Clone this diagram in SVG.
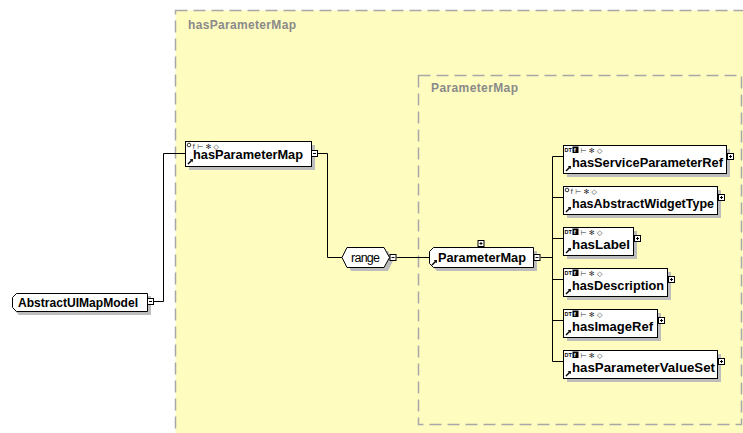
<svg xmlns="http://www.w3.org/2000/svg" xmlns:xlink="http://www.w3.org/1999/xlink" width="743" height="433" viewBox="0 0 743 433">
<style>
.cont{fill:#FFFCC0;stroke:#A8A8A8;stroke-width:1.5;stroke-dasharray:12 6}
.clabel{font-family:"Liberation Sans",Arial,sans-serif;font-weight:bold;font-size:12px;fill:#8A8A8A}
.box{fill:#FFFFFF;stroke:#000000;stroke-width:1}
.shadow{fill:#BDBDBD;stroke:none}
.name{font-family:"Liberation Sans",Arial,sans-serif;font-weight:bold;font-size:13.5px;fill:#000000}
.plain{font-family:"Liberation Sans",Arial,sans-serif;font-size:12.5px;fill:#000000}
.ico{font-family:"DejaVu Sans",sans-serif;font-size:7px;fill:#333333}
.dt{font-family:"Liberation Sans",Arial,sans-serif;font-weight:bold;font-size:5.5px;fill:#000000}
.wf{font-family:"Liberation Sans",Arial,sans-serif;font-weight:bold;font-size:6px;fill:#FFFFFF}
.conn{fill:none;stroke:#000000;stroke-width:1}
.sign{fill:#FFFFFF;stroke:#000000;stroke-width:1}
.signl{stroke:#000000;stroke-width:1}
</style>
<defs>
<g id="minus"><rect class="sign" x="0.5" y="0.5" width="6" height="6"/><path class="signl" d="M2,3.5H5"/></g>
<g id="plus"><rect class="sign" x="0.5" y="0.5" width="6" height="6"/><path class="signl" d="M2,3.5H5M3.5,2V5"/></g>
<g id="arrow"><path d="M0.5,5.5L4,2" stroke="#000" stroke-width="1.4"/><polygon points="2.2,0.8 5.5,0.5 5.2,3.8" fill="#000"/></g>
<g id="dticons"><text class="dt" x="0" y="6">DT</text><rect x="8" y="0.5" width="6" height="6.5" fill="#000"/><text class="wf" x="9.3" y="6">f</text><text class="ico" x="16" y="6.5">⊢ ✻ ◇</text></g>
<g id="oicons"><circle cx="2.5" cy="3" r="1.8" fill="#fff" stroke="#000" stroke-width="0.8"/><text class="ico" x="6" y="6.5">f  ⊢ ✻ ◇</text></g>
</defs>

<g id="containers">
<rect class="cont" x="175.5" y="10.5" width="620" height="480"/>
<text class="clabel" x="188" y="29" textLength="108" lengthAdjust="spacing">hasParameterMap</text>
<rect class="cont" x="418.5" y="75.5" width="323" height="349"/>
<text class="clabel" x="431" y="92" textLength="87" lengthAdjust="spacing">ParameterMap</text>
</g>

<g id="connectors">
<path class="conn" d="M153.5,301.5H163.5V153.5H185.5"/>
<path class="conn" d="M317.5,153.5H327.5V257.5H342"/>
<path class="conn" d="M396.5,257.5H429"/>
<path class="conn" d="M540.5,257.5H552.5"/>
<path class="conn" d="M552.5,156.5V361.5"/>
<path class="conn" d="M552.5,156.5H563.5M552.5,197.5H563.5M552.5,238.5H563.5M552.5,279.5H563.5M552.5,320.5H563.5M552.5,361.5H563.5"/>
</g>

<g id="node-AbstractUIMapModel">
<path class="shadow" d="M19,296H151V315H19L15,311V300Z"/>
<path class="box" d="M16.5,293.5H147.5V311.5H16.5L12.5,307.5V297.5Z"/>
<text class="name" x="18" y="307" textLength="120" lengthAdjust="spacingAndGlyphs">AbstractUIMapModel</text>
<use xlink:href="#minus" x="147" y="298"/>
</g>

<g id="node-hasParameterMap">
<rect class="shadow" x="189" y="145" width="126" height="25"/>
<rect class="box" x="185.5" y="141.5" width="126" height="25"/>
<use xlink:href="#oicons" x="186.5" y="142"/>
<use xlink:href="#arrow" x="187.5" y="158.5"/>
<text class="name" x="193" y="159" textLength="110" lengthAdjust="spacingAndGlyphs">hasParameterMap</text>
<use xlink:href="#minus" x="311" y="150"/>
</g>

<g id="node-range">
<polygon class="shadow" points="346,261 351,251 388,251 393,261 388,271 351,271"/>
<polygon class="box" points="342,257.5 347,247.5 384,247.5 389.5,257.5 384,267.5 347,267.5"/>
<text class="plain" x="351" y="262" textLength="29" lengthAdjust="spacing">range</text>
<use xlink:href="#minus" x="389.5" y="254"/>
</g>

<g id="node-ParameterMap">
<path class="shadow" d="M437,251H537V271H437L433,267V255Z"/>
<path class="box" d="M433.5,247.5H533.5V267.5H433.5L429.5,263.5V251.5Z"/>
<use xlink:href="#arrow" x="431.5" y="259.5"/>
<text class="name" x="438" y="262" textLength="88" lengthAdjust="spacingAndGlyphs">ParameterMap</text>
<use xlink:href="#minus" x="533.5" y="254"/>
<use xlink:href="#plus" x="477.5" y="240"/>
</g>

<g id="node-hasServiceParameterRef">
<rect class="shadow" x="567" y="149" width="163" height="28"/>
<rect class="box" x="563.5" y="145.5" width="163" height="28"/>
<use xlink:href="#dticons" x="564.5" y="146"/>
<use xlink:href="#arrow" x="565.5" y="165.5"/>
<text class="name" x="572" y="167" textLength="151" lengthAdjust="spacingAndGlyphs">hasServiceParameterRef</text>
<use xlink:href="#plus" x="727" y="153"/>
</g>

<g id="node-hasAbstractWidgetType">
<rect class="shadow" x="567" y="190" width="154" height="28"/>
<rect class="box" x="563.5" y="186.5" width="154" height="28"/>
<use xlink:href="#oicons" x="564.5" y="187"/>
<use xlink:href="#arrow" x="565.5" y="206.5"/>
<text class="name" x="572" y="208" textLength="142" lengthAdjust="spacingAndGlyphs">hasAbstractWidgetType</text>
<use xlink:href="#plus" x="718" y="194"/>
</g>

<g id="node-hasLabel">
<rect class="shadow" x="567" y="231" width="70" height="28"/>
<rect class="box" x="563.5" y="227.5" width="70" height="28"/>
<use xlink:href="#dticons" x="564.5" y="228"/>
<use xlink:href="#arrow" x="565.5" y="247.5"/>
<text class="name" x="572" y="249" textLength="58" lengthAdjust="spacingAndGlyphs">hasLabel</text>
<use xlink:href="#plus" x="634" y="235"/>
</g>

<g id="node-hasDescription">
<rect class="shadow" x="567" y="272" width="104" height="28"/>
<rect class="box" x="563.5" y="268.5" width="104" height="28"/>
<use xlink:href="#dticons" x="564.5" y="269"/>
<use xlink:href="#arrow" x="565.5" y="288.5"/>
<text class="name" x="572" y="290" textLength="92" lengthAdjust="spacingAndGlyphs">hasDescription</text>
<use xlink:href="#plus" x="668" y="276"/>
</g>

<g id="node-hasImageRef">
<rect class="shadow" x="567" y="313" width="94" height="28"/>
<rect class="box" x="563.5" y="309.5" width="94" height="28"/>
<use xlink:href="#dticons" x="564.5" y="310"/>
<use xlink:href="#arrow" x="565.5" y="329.5"/>
<text class="name" x="572" y="331" textLength="81" lengthAdjust="spacingAndGlyphs">hasImageRef</text>
<use xlink:href="#plus" x="658" y="317"/>
</g>

<g id="node-hasParameterValueSet">
<rect class="shadow" x="567" y="354" width="154" height="28"/>
<rect class="box" x="563.5" y="350.5" width="154" height="28"/>
<use xlink:href="#dticons" x="564.5" y="351"/>
<use xlink:href="#arrow" x="565.5" y="370.5"/>
<text class="name" x="572" y="372" textLength="143" lengthAdjust="spacingAndGlyphs">hasParameterValueSet</text>
<use xlink:href="#plus" x="718" y="358"/>
</g>
</svg>
